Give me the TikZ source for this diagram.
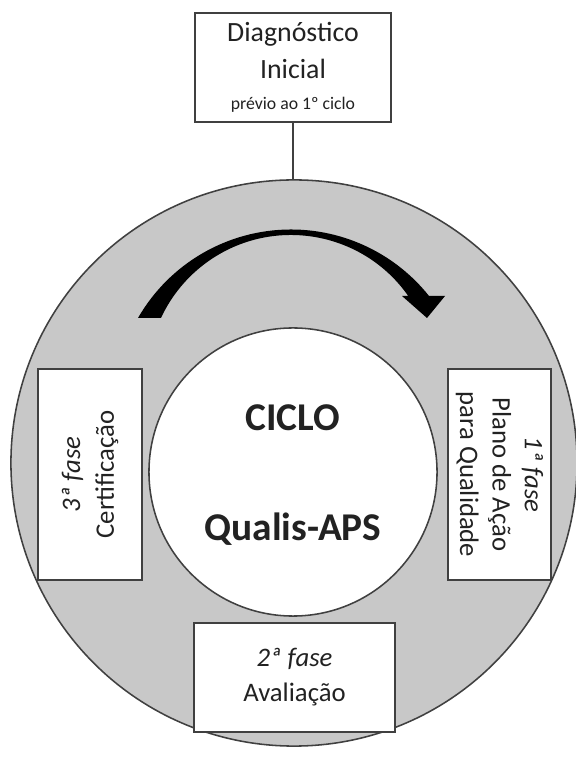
\documentclass[tikz,border=0pt]{standalone}
\usepackage{fontspec}
\setmainfont{Carlito}
\usepackage{xcolor}
\usepackage{tikz}
\usetikzlibrary{calc}
\usetikzlibrary{backgrounds}

\definecolor{ringgray}{HTML}{C8C8C8}
\definecolor{edgegray}{HTML}{404040}
\definecolor{inkgray}{HTML}{222222}

\tikzset{
  phasebox/.style={draw=edgegray,line width=1.4pt,fill=white,align=center,
    text=inkgray,inner sep=0pt,font=\fontsize{19}{23}\selectfont},
  ringline/.style={draw=edgegray,line width=1.1pt}
}

\begin{document}
\begin{tikzpicture}[x=0.025cm,y=0.025cm]
\useasboundingbox[fill=white] (0,0) rectangle (576,762);
\node[circle,ringline,fill=ringgray,minimum size=14.15cm,inner sep=0pt] (ring) at (294,299) {};
\node[circle,ringline,fill=white,minimum size=7.2cm,inner sep=0pt] (core) at (293,290) {};
\node[align=center,text=inkgray,font=\bfseries\fontsize{28}{34}\selectfont] (title) at ([yshift=-2pt]core.center) {CICLO\\[44pt]Qualis-APS};
\node[phasebox,minimum width=4.9cm,minimum height=2.725cm,font=\fontsize{19.8}{23}\selectfont] (diag) at (293,694.5)
   {Diagnóstico\\[3pt]Inicial\\[-1pt]{\fontsize{12.6}{15}\selectfont prévio ao 1º ciclo}};
\draw[edgegray,line width=1.4pt] (diag.south) -- (diag.south |- ring.north);
\node[phasebox,rotate=90,minimum width=5.275cm,minimum height=2.6cm] (fase3) at (90,287.5)
   {\textit{3ª fase}\\[1pt]Certificação};
\node[phasebox,rotate=-90,minimum width=5.275cm,minimum height=2.575cm] (fase1) at (499.5,287.5)
   {\textit{1ª fase}\\Plano de Ação\\para Qualidade};
\node[phasebox,minimum width=5.025cm,minimum height=2.725cm] (fase2) at (294.5,84.5)
   {\textit{2ª fase}\\[2pt]Avaliação};
\fill[black] (138,444) arc[start angle=150.1,end angle=38.6,radius=176.5]
   -- (445,466) -- (427,444) -- (402,466) -- (408.2,466.1)
   arc[start angle=35.1,end angle=155.1,radius=143.3] -- cycle;
\end{tikzpicture}
\end{document}
